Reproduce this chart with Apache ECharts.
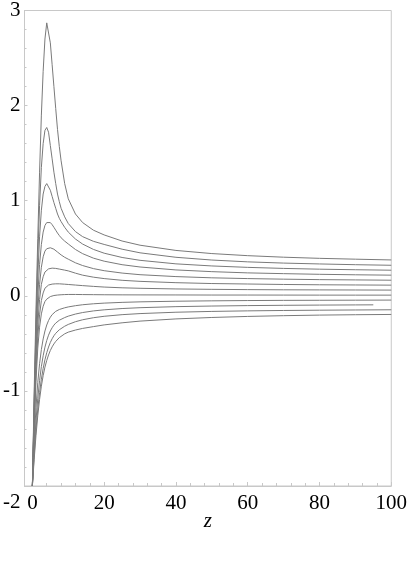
<!DOCTYPE html>
<html>
<head>
<meta charset="utf-8">
<script src="https://cdn.jsdelivr.net/npm/echarts@6/dist/echarts.min.js"></script>
<style>
html,body{margin:0;padding:0;background:#fff;}
#chart{width:410px;height:562px;}
</style>
</head>
<body>
<div id="chart"></div>
<script>
// sample positions along z
var zs = [0, 0.5, 1, 1.5, 2, 2.5, 3, 3.5, 4, 4.5, 5, 5.5, 6, 6.5, 7, 7.5, 8, 9, 10, 12, 14, 17, 20, 25, 30, 40, 50, 60, 70, 80, 90, 100];
var zs10 = [0, 0.5, 1, 1.5, 2, 2.5, 3, 3.5, 4, 4.5, 5, 5.5, 6, 6.5, 7, 7.5, 8, 9, 10, 12, 14, 17, 20, 25, 30, 40, 50, 60, 70, 80, 90, 95];

var c1 = [-2, -1.0, -0.15, 0.6, 1.3, 1.9, 2.36, 2.7, 2.87, 2.86, 2.66, 2.43, 2.2, 1.97, 1.75, 1.57, 1.42, 1.18, 1.02, 0.86, 0.77, 0.69, 0.64, 0.576, 0.532, 0.477, 0.444, 0.422, 0.406, 0.394, 0.385, 0.377];
var c2 = [-2, -1.1, -0.3, 0.4, 0.95, 1.35, 1.6, 1.74, 1.77, 1.72, 1.58, 1.44, 1.3, 1.18, 1.07, 0.99, 0.92, 0.83, 0.76, 0.675, 0.622, 0.573, 0.54, 0.49, 0.452, 0.405, 0.376, 0.357, 0.344, 0.335, 0.327, 0.321];
var c3 = [-2, -1.15, -0.4, 0.2, 0.62, 0.9, 1.07, 1.15, 1.18, 1.17, 1.11, 1.045, 0.98, 0.92, 0.86, 0.815, 0.78, 0.72, 0.67, 0.597, 0.544, 0.488, 0.448, 0.403, 0.373, 0.336, 0.314, 0.299, 0.288, 0.280, 0.274, 0.269];
var c4 = [-2, -1.2, -0.5, 0.0, 0.33, 0.54, 0.67, 0.74, 0.77, 0.78, 0.77, 0.748, 0.72, 0.69, 0.66, 0.634, 0.61, 0.575, 0.545, 0.487, 0.443, 0.396, 0.364, 0.327, 0.303, 0.272, 0.254, 0.241, 0.233, 0.226, 0.221, 0.217];
var c5 = [-2, -1.25, -0.6, -0.15, 0.12, 0.3, 0.41, 0.47, 0.495, 0.505, 0.505, 0.5, 0.49, 0.476, 0.46, 0.445, 0.43, 0.405, 0.385, 0.347, 0.318, 0.286, 0.264, 0.239, 0.222, 0.202, 0.189, 0.181, 0.175, 0.170, 0.167, 0.164];
var c6 = [-2, -1.3, -0.7, -0.3, -0.04, 0.12, 0.2, 0.25, 0.27, 0.283, 0.29, 0.291, 0.29, 0.288, 0.285, 0.281, 0.277, 0.27, 0.262, 0.238, 0.217, 0.196, 0.181, 0.163, 0.152, 0.138, 0.129, 0.124, 0.119, 0.116, 0.114, 0.112];
var c7 = [-2, -1.35, -0.8, -0.43, -0.2, -0.05, 0.03, 0.08, 0.1, 0.113, 0.12, 0.123, 0.125, 0.126, 0.126, 0.126, 0.125, 0.122, 0.119, 0.113, 0.107, 0.099, 0.092, 0.084, 0.079, 0.072, 0.068, 0.065, 0.063, 0.062, 0.061, 0.060];
var c8 = [-2, -1.4, -0.9, -0.55, -0.33, -0.19, -0.11, -0.06, -0.035, -0.018, -0.008, -0.002, 0.003, 0.006, 0.008, 0.01, 0.011, 0.013, 0.014, 0.014, 0.013, 0.012, 0.011, 0.010, 0.0095, 0.009, 0.008, 0.008, 0.0075, 0.0072, 0.007, 0.007];
var c9 = [-2, -1.53, -1.177, -0.912, -0.714, -0.565, -0.454, -0.37, -0.307, -0.26, -0.225, -0.198, -0.178, -0.1635, -0.152, -0.144, -0.1377, -0.126, -0.117, -0.104, -0.094, -0.084, -0.077, -0.069, -0.0637, -0.057, -0.053, -0.050, -0.048, -0.047, -0.046, -0.045];
var c10 = [-2, -1.617, -1.315, -1.078, -0.892, -0.745, -0.631, -0.54, -0.47, -0.414, -0.37, -0.336, -0.3085, -0.287, -0.2705, -0.257, -0.247, -0.229, -0.214, -0.192, -0.176, -0.159, -0.1475, -0.134, -0.125, -0.114, -0.1076, -0.103, -0.100, -0.0976, -0.0958, -0.095];
var c11 = [-2, -1.671, -1.406, -1.191, -1.018, -0.877, -0.764, -0.6725, -0.5985, -0.539, -0.4905, -0.4515, -0.42, -0.3946, -0.374, -0.3574, -0.344, -0.320, -0.301, -0.2725, -0.252, -0.2306, -0.2155, -0.1984, -0.187, -0.1728, -0.1642, -0.1585, -0.1544, -0.1514, -0.149, -0.147];
var c12 = [-2, -1.72, -1.47, -1.26, -1.09, -0.95, -0.84, -0.75, -0.68, -0.622, -0.575, -0.537, -0.506, -0.48, -0.459, -0.44, -0.424, -0.40, -0.382, -0.36, -0.343, -0.324, -0.306, -0.284, -0.266, -0.243, -0.228, -0.217, -0.209, -0.203, -0.199, -0.196];

var xLabels = [0, 20, 40, 60, 80, 100];
var xMinor = [0, 4, 8, 12, 16, 20, 24, 28, 32, 36, 40, 44, 48, 52, 56, 60, 64, 68, 72, 76, 80, 84, 88, 92, 96, 100];
var yLabels = [-2, -1, 0, 1, 2, 3];

var curves = [
  {z: zs, v: c1}, {z: zs, v: c2}, {z: zs, v: c3}, {z: zs, v: c4},
  {z: zs, v: c5}, {z: zs, v: c6}, {z: zs, v: c7}, {z: zs, v: c8},
  {z: zs, v: c9}, {z: zs10, v: c10}, {z: zs, v: c11}, {z: zs, v: c12}
];

var font = '"Liberation Serif", "DejaVu Serif", serif';
var axisGray = '#c8c8c8';

var series = curves.map(function (c) {
  return {
    type: 'line',
    xAxisIndex: 0, yAxisIndex: 0,
    showSymbol: false,
    symbol: 'none',
    silent: true,
    lineStyle: {color: '#7a7a7a', width: 1},
    data: c.z.map(function (z, i) { return [z, c.v[i]]; })
  };
});

var chart = echarts.init(document.getElementById('chart'), null, {renderer: 'canvas'});
chart.setOption({
  animation: false,
  backgroundColor: '#ffffff',
  grid: {left: 22, right: 17, top: 9, bottom: 76, show: true, borderColor: axisGray, borderWidth: 1, backgroundColor: 'transparent'},
  xAxis: [{
    type: 'value', min: -2.2, max: 100,
    position: 'bottom',
    name: 'z', nameLocation: 'middle', nameGap: 35, nameMoveOverlap: false,
    nameTextStyle: {fontFamily: font, fontStyle: 'italic', fontSize: 21, color: '#000', verticalAlign: 'middle'},
    axisLine: {show: true, onZero: false, lineStyle: {color: axisGray, width: 1}},
    axisTick: {show: true, inside: true, length: 4, customValues: xLabels, lineStyle: {color: axisGray}},
    axisLabel: {customValues: xLabels, fontFamily: font, fontSize: 21, color: '#000', margin: 7},
    splitLine: {show: false}
  }, {
    type: 'value', min: -2.2, max: 100,
    position: 'bottom', offset: 0,
    axisLine: {show: false, onZero: false},
    axisTick: {show: true, inside: true, length: 3, customValues: xMinor, lineStyle: {color: axisGray}},
    axisLabel: {show: false},
    splitLine: {show: false}
  }],
  yAxis: [{
    type: 'value', min: -2, max: 3, interval: 1,
    axisLine: {show: true, onZero: false, lineStyle: {color: axisGray, width: 1}},
    axisTick: {show: true, inside: true, length: 3, lineStyle: {color: axisGray}},
    minorTick: {show: true, splitNumber: 5, length: 2, lineStyle: {color: axisGray}},
    axisLabel: {
      fontFamily: font, fontSize: 21, color: '#000', margin: 4,
      formatter: function (v) { return v === -2 ? '{lo|-2}' : String(v); },
      rich: {lo: {fontFamily: font, fontSize: 21, color: '#000', padding: [32, 0, 0, 0]}}
    },
    splitLine: {show: false}
  }],
  series: series
});
</script>
</body>
</html>
